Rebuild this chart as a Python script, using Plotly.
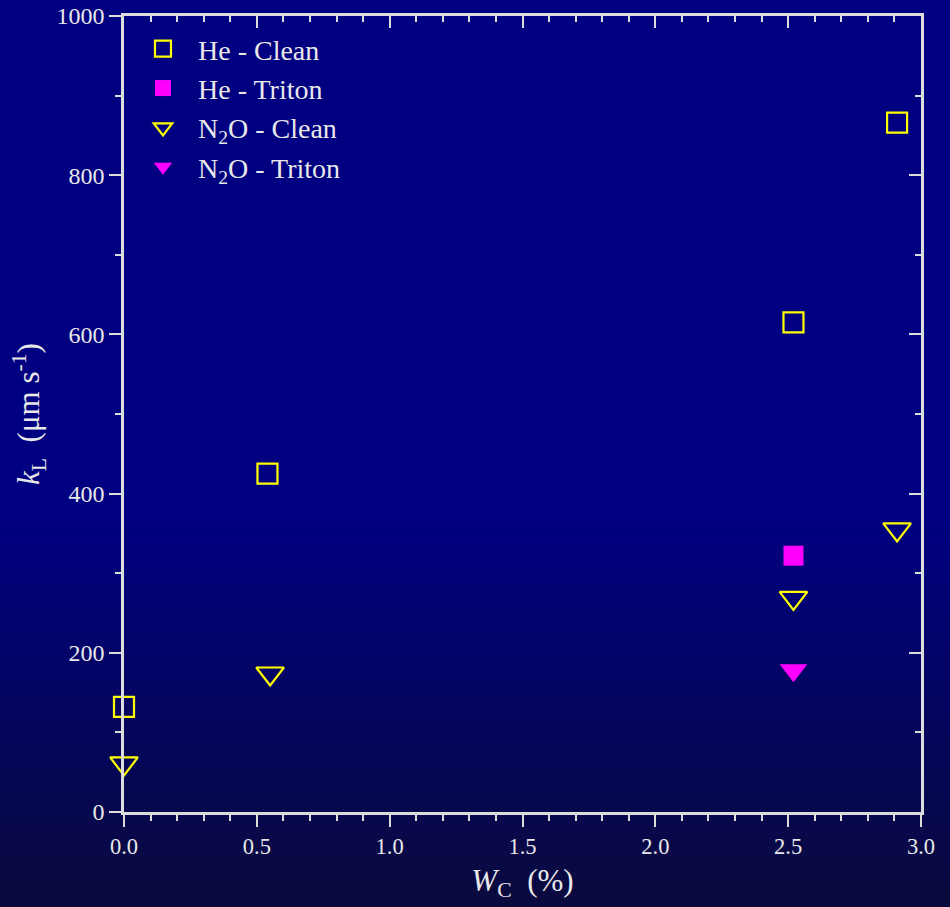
import plotly.graph_objects as go

# Transfer velocity k_L versus fractional whitecap cover W_C
he_clean_x = [0.0, 0.54, 2.52, 2.91]
he_clean_y = [132, 425, 615, 866]
he_triton_x = [2.52]
he_triton_y = [322]
n2o_clean_x = [0.0, 0.55, 2.52, 2.91]
n2o_clean_y = [61, 174, 269, 355]
n2o_triton_x = [2.52]
n2o_triton_y = [178]

x_ticks = [0.0, 0.5, 1.0, 1.5, 2.0, 2.5, 3.0]
y_ticks = [0, 200, 400, 600, 800, 1000]

W, H = 950, 907
L, R, T, B = 124, 29, 16, 95
PW, PH = W - L - R, H - T - B

FONT = "Liberation Serif"
AX = "#dcdcdc"
TXT = "#e8e8e8"
YEL = "#ffff00"
MAG = "#ff00ff"

fig = go.Figure()

fig.add_trace(go.Scatter(
    x=he_clean_x, y=he_clean_y, mode="markers", name="He - Clean",
    marker=dict(symbol="square-open", size=20, color=YEL, line=dict(width=2.2, color=YEL)),
    cliponaxis=False))
fig.add_trace(go.Scatter(
    x=he_triton_x, y=he_triton_y, mode="markers", name="He - Triton",
    marker=dict(symbol="square", size=20, color=MAG, line=dict(width=0)),
    cliponaxis=False))
fig.add_trace(go.Scatter(
    x=n2o_clean_x, y=n2o_clean_y, mode="markers", name="N<sub>2</sub>O - Clean",
    marker=dict(symbol="triangle-down-open", size=24, color=YEL, line=dict(width=2.2, color=YEL)),
    cliponaxis=False))
fig.add_trace(go.Scatter(
    x=n2o_triton_x, y=n2o_triton_y, mode="markers", name="N<sub>2</sub>O - Triton",
    marker=dict(symbol="triangle-down", size=24, color=MAG, line=dict(width=0)),
    cliponaxis=False))

# vertical background gradient: navy fading to a darker tone near the bottom
shapes = []
n = 90
c0 = (0, 0, 128)
c1 = (10, 10, 62)
fade_start = 520
for i in range(n):
    p0 = H * i / n
    p1 = H * (i + 1) / n + 0.5
    mid = (p0 + p1) / 2
    t = 0.0 if mid < fade_start else (mid - fade_start) / (H - fade_start)
    col = tuple(round(a + (b - a) * t) for a, b in zip(c0, c1))
    shapes.append(dict(
        type="rect", xref="paper", yref="paper", layer="below",
        x0=-L / PW - 0.01, x1=1 + R / PW + 0.01,
        y0=1 + T / PH - p1 / PH, y1=1 + T / PH - p0 / PH,
        fillcolor="rgb(%d,%d,%d)" % col, line=dict(width=0)))

tickfont_x = dict(family=FONT, size=22.5, color=TXT)
tickfont_y = dict(family=FONT, size=24, color=TXT)

fig.update_layout(
    width=W, height=H,
    margin=dict(l=L, r=R, t=T, b=B, pad=0, autoexpand=False),
    paper_bgcolor="rgb(0,0,128)",
    plot_bgcolor="rgba(0,0,0,0)",
    shapes=shapes,
    showlegend=True,
    legend=dict(
        x=0.005, y=0.99, xanchor="left", yanchor="top",
        bgcolor="rgba(0,0,0,0)", borderwidth=0,
        font=dict(family=FONT, size=28, color=TXT),
        tracegroupgap=0, itemwidth=60),
    xaxis=dict(
        range=[0, 3], tickvals=x_ticks, tickformat=".1f", automargin=False,
        ticks="outside", ticklen=12, tickwidth=2, tickcolor=AX,
        minor=dict(dtick=0.1, tick0=0, ticks="outside", ticklen=6, tickwidth=2, tickcolor=AX),
        showline=True, linewidth=2.5, linecolor=AX,
        showgrid=False, zeroline=False,
        tickfont=tickfont_x,
        title=dict(text="<i>W</i><sub>C</sub>\u00a0\u00a0(%)",
                   font=dict(family=FONT, size=31, color=TXT), standoff=12)),
    yaxis=dict(
        range=[0, 1000], tickvals=y_ticks, automargin=False,
        ticks="outside", ticklen=12, tickwidth=2, tickcolor=AX,
        minor=dict(dtick=100, tick0=0, ticks="outside", ticklen=6, tickwidth=2, tickcolor=AX),
        showline=True, linewidth=2.5, linecolor=AX,
        showgrid=False, zeroline=False,
        tickfont=tickfont_y,
        title=dict(text="<i>k</i><sub>L</sub>\u00a0\u00a0(\u03bcm s<sup>-1</sup>)",
                   font=dict(family=FONT, size=31, color=TXT), standoff=8)),
    xaxis2=dict(
        overlaying="x", side="top", matches="x", range=[0, 3], tickvals=x_ticks,
        automargin=False,
        ticks="inside", ticklen=12, tickwidth=2, tickcolor=AX,
        minor=dict(dtick=0.1, tick0=0, ticks="inside", ticklen=6, tickwidth=2, tickcolor=AX),
        showline=True, linewidth=2.5, linecolor=AX,
        showticklabels=False, showgrid=False, zeroline=False),
    yaxis2=dict(
        overlaying="y", side="right", matches="y", range=[0, 1000], tickvals=y_ticks,
        automargin=False,
        ticks="inside", ticklen=12, tickwidth=2, tickcolor=AX,
        minor=dict(dtick=100, tick0=0, ticks="inside", ticklen=6, tickwidth=2, tickcolor=AX),
        showline=True, linewidth=2.5, linecolor=AX,
        showticklabels=False, showgrid=False, zeroline=False),
)

# invisible trace so the mirrored top/right axes are drawn
fig.add_trace(go.Scatter(x=[0], y=[0], xaxis="x2", yaxis="y2", mode="markers",
                         marker=dict(opacity=0), showlegend=False, hoverinfo="skip"))

fig.write_html("out.html")
